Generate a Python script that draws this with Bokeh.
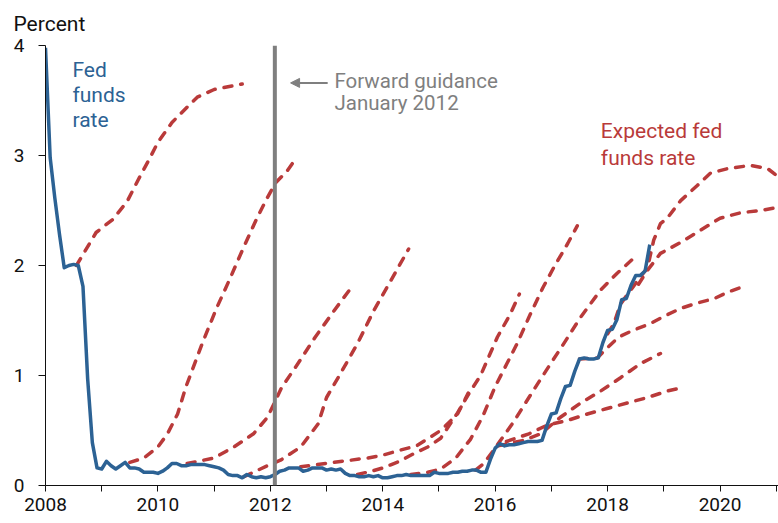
from bokeh.plotting import figure
from bokeh.models import Range1d, FixedTicker, Span, Label, Arrow, NormalHead, Title
from bokeh.embed import file_html
from bokeh.resources import INLINE

# ---------------- data ----------------
# Effective fed funds rate, monthly Jan 2008 - Oct 2018 (percent)
ffr_2008 = [3.98, 2.98, 2.61, 2.28, 1.98, 2.00, 2.01, 2.00, 1.81, 0.97, 0.39, 0.16]
ffr_2009 = [0.15, 0.22, 0.18, 0.15, 0.18, 0.21, 0.16, 0.16, 0.15, 0.12, 0.12, 0.12]
ffr_2010 = [0.11, 0.13, 0.16, 0.20, 0.20, 0.18, 0.18, 0.19, 0.19, 0.19, 0.19, 0.18]
ffr_2011 = [0.17, 0.16, 0.14, 0.10, 0.09, 0.09, 0.07, 0.10, 0.08, 0.07, 0.08, 0.07]
ffr_2012 = [0.08, 0.10, 0.13, 0.14, 0.16, 0.16, 0.16, 0.13, 0.14, 0.16, 0.16, 0.16]
ffr_2013 = [0.14, 0.15, 0.14, 0.15, 0.11, 0.09, 0.09, 0.08, 0.08, 0.09, 0.08, 0.09]
ffr_2014 = [0.07, 0.07, 0.08, 0.09, 0.09, 0.10, 0.09, 0.09, 0.09, 0.09, 0.09, 0.12]
ffr_2015 = [0.11, 0.11, 0.11, 0.12, 0.12, 0.13, 0.13, 0.14, 0.14, 0.12, 0.12, 0.24]
ffr_2016 = [0.34, 0.38, 0.36, 0.37, 0.37, 0.38, 0.39, 0.40, 0.40, 0.40, 0.41, 0.54]
ffr_2017 = [0.65, 0.66, 0.79, 0.90, 0.91, 1.04, 1.15, 1.16, 1.15, 1.15, 1.16, 1.30]
ffr_2018 = [1.41, 1.42, 1.51, 1.69, 1.70, 1.82, 1.91, 1.91, 1.95, 2.19]
ffr_start_year = 2008

# Expected fed funds rate paths (year, percent)
exp1_x = [2008.55, 2008.9, 2009.2, 2009.45, 2009.65, 2009.85, 2010.0, 2010.25, 2010.5, 2010.7, 2011.0, 2011.5]
exp1_y = [2.00, 2.30, 2.42, 2.58, 2.78, 2.97, 3.12, 3.30, 3.43, 3.53, 3.60, 3.65]
exp2_x = [2009.5, 2009.75, 2010.0, 2010.17, 2010.35, 2010.5, 2010.81, 2011.05, 2011.29, 2011.52, 2011.77, 2011.95, 2012.09, 2012.3, 2012.45]
exp2_y = [0.21, 0.25, 0.35, 0.47, 0.65, 0.90, 1.32, 1.62, 1.89, 2.16, 2.44, 2.62, 2.75, 2.86, 2.97]
exp3_x = [2010.52, 2011.0, 2011.35, 2011.7, 2011.95, 2012.2, 2012.48, 2012.8, 2013.15, 2013.47]
exp3_y = [0.20, 0.25, 0.35, 0.47, 0.62, 0.89, 1.10, 1.35, 1.60, 1.82]
exp4_x = [2011.53, 2011.95, 2012.18, 2012.54, 2012.85, 2013.0, 2013.25, 2013.55, 2013.84, 2014.14, 2014.46]
exp4_y = [0.08, 0.18, 0.23, 0.35, 0.56, 0.80, 1.02, 1.29, 1.59, 1.86, 2.15]
exp5_x = [2012.54, 2013.13, 2013.73, 2013.96, 2014.3, 2014.6, 2015.03, 2015.33, 2015.52]
exp5_y = [0.17, 0.21, 0.25, 0.27, 0.32, 0.36, 0.50, 0.65, 0.84]
exp6_x = [2013.55, 2013.8, 2014.0, 2014.3, 2014.55, 2014.8, 2015.03, 2015.33, 2015.55, 2015.74, 2016.04, 2016.27, 2016.43]
exp6_y = [0.10, 0.13, 0.16, 0.22, 0.29, 0.35, 0.43, 0.66, 0.85, 1.00, 1.35, 1.56, 1.74]
exp7_x = [2014.5, 2014.8, 2015.03, 2015.3, 2015.56, 2015.78, 2016.0, 2016.2, 2016.4, 2016.6, 2016.85, 2017.04, 2017.29, 2017.46]
exp7_y = [0.10, 0.12, 0.15, 0.25, 0.42, 0.63, 0.90, 1.10, 1.30, 1.53, 1.80, 1.98, 2.20, 2.36]
exp8_x = [2015.65, 2015.8, 2016.04, 2016.33, 2016.6, 2016.9, 2017.22, 2017.52, 2017.88, 2018.17, 2018.45]
exp8_y = [0.14, 0.20, 0.37, 0.58, 0.80, 1.04, 1.29, 1.53, 1.78, 1.93, 2.06]
exp9_x = [2016.05, 2016.5, 2016.81, 2017.16, 2017.52, 2017.88, 2018.23, 2018.59, 2018.94]
exp9_y = [0.36, 0.41, 0.47, 0.62, 0.75, 0.86, 0.98, 1.11, 1.20]
exp10_x = [2016.2, 2016.6, 2016.93, 2017.28, 2017.64, 2017.99, 2018.35, 2018.71, 2019.07, 2019.25]
exp10_y = [0.40, 0.47, 0.55, 0.59, 0.65, 0.70, 0.75, 0.80, 0.86, 0.88]
exp11_x = [2017.5, 2017.82, 2017.99, 2018.2, 2018.45, 2018.75, 2019.05, 2019.3, 2019.6, 2019.9, 2020.15, 2020.42]
exp11_y = [1.15, 1.16, 1.25, 1.35, 1.41, 1.47, 1.55, 1.61, 1.66, 1.70, 1.76, 1.81]
exp12_x = [2018.0, 2018.11, 2018.23, 2018.53, 2018.71, 2018.82, 2018.94, 2019.06, 2019.3, 2019.6, 2019.83, 2020.13, 2020.54, 2020.85, 2021.0]
exp12_y = [1.38, 1.47, 1.65, 1.86, 1.98, 2.23, 2.38, 2.43, 2.59, 2.73, 2.84, 2.88, 2.91, 2.88, 2.82]
exp13_x = [2018.55, 2018.7, 2018.94, 2019.3, 2019.65, 2020.0, 2020.37, 2020.72, 2021.04]
exp13_y = [1.83, 1.95, 2.11, 2.21, 2.32, 2.43, 2.48, 2.50, 2.53]

x_ticks = list(range(2008, 2022))
y_ticks = [0, 1, 2, 3, 4]
guidance_date = 2012.08

# ---------------- build ----------------
ffr = ffr_2008 + ffr_2009 + ffr_2010 + ffr_2011 + ffr_2012 + ffr_2013 + ffr_2014 + ffr_2015 + ffr_2016 + ffr_2017 + ffr_2018
ffr_x = [ffr_start_year + i / 12 for i in range(len(ffr))]

BLUE = "#2c6294"
RED = "#b93a3a"
GRAY = "#7f7f7f"
FONT = "Roboto"

p = figure(width=778, height=523, x_range=Range1d(2008, 2021.04), y_range=Range1d(0, 4),
           output_backend="svg", toolbar_location=None, title=None,
           min_border_left=45, min_border_right=0, min_border_top=45, min_border_bottom=38)
p.outline_line_color = None
p.xgrid.grid_line_color = None
p.ygrid.grid_line_color = None
p.background_fill_color = "white"

p.add_layout(Title(text="Percent", align="left", offset=-32, standoff=19,
                   text_font=FONT, text_font_size="21px", text_font_style="normal",
                   text_color="#111111"), "above")

for ax in (p.xaxis[0], p.yaxis[0]):
    ax.axis_line_color = "#111111"
    ax.major_tick_line_color = "#111111"
    ax.minor_tick_line_color = None
    ax.major_tick_in = 0
    ax.major_label_text_font = FONT
    ax.major_label_text_font_size = "19px"
    ax.major_label_text_color = "#111111"

p.xaxis.ticker = FixedTicker(ticks=x_ticks)
p.xaxis.major_label_overrides = {t: (str(t) if t % 2 == 0 else "") for t in x_ticks}
p.xaxis.major_tick_out = 6
p.xaxis.major_label_standoff = 6
p.yaxis.ticker = FixedTicker(ticks=y_ticks)
p.yaxis.major_tick_out = 7
p.yaxis.major_label_standoff = 14

# vertical forward guidance line
p.add_layout(Span(location=guidance_date, dimension="height", line_color=GRAY, line_width=4))

# expected paths
paths = [(exp1_x, exp1_y), (exp2_x, exp2_y), (exp3_x, exp3_y), (exp4_x, exp4_y), (exp5_x, exp5_y),
         (exp6_x, exp6_y), (exp7_x, exp7_y), (exp8_x, exp8_y), (exp9_x, exp9_y), (exp10_x, exp10_y),
         (exp11_x, exp11_y), (exp12_x, exp12_y), (exp13_x, exp13_y)]
for xs, ys in paths:
    p.line(xs, ys, line_color=RED, line_width=3.5, line_dash="8 9", line_cap="round", line_join="round")

# fed funds rate
p.line(ffr_x, ffr, line_color=BLUE, line_width=3.5, line_join="round")

# annotations
def lab(x, y, t, color, size):
    p.add_layout(Label(x=x, y=y, text=t, text_color=color, text_font=FONT, text_font_size=size,
                       text_baseline="middle", text_align="left"))

lab(2008.48, 3.777, "Fed", BLUE, "21px")
lab(2008.48, 3.55, "funds", BLUE, "21px")
lab(2008.48, 3.323, "rate", BLUE, "21px")
lab(2013.14, 3.677, "Forward guidance", GRAY, "20.5px")
lab(2013.14, 3.477, "January 2012", GRAY, "20.5px")
lab(2017.88, 3.227, "Expected fed", RED, "21px")
lab(2017.88, 2.977, "funds rate", RED, "21px")

p.add_layout(Arrow(x_start=2013.02, y_start=3.66, x_end=2012.36, y_end=3.66, line_color=GRAY, line_width=2,
                   end=NormalHead(size=9, fill_color=GRAY, line_color=GRAY)))

open("out.html", "w").write(file_html(p, INLINE))
